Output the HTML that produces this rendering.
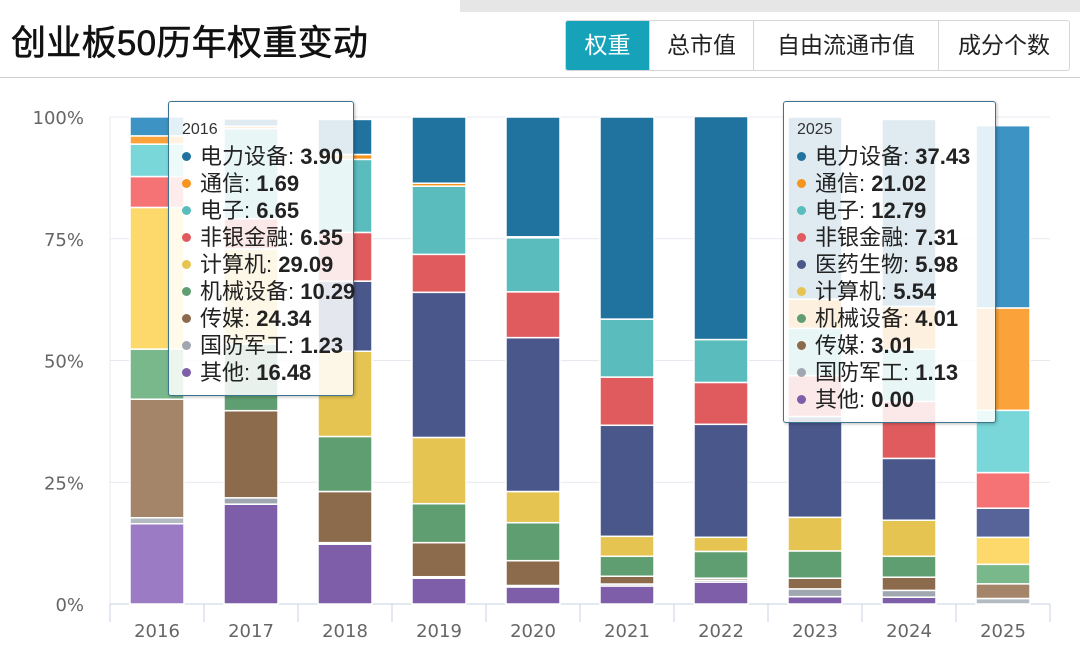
<!DOCTYPE html>
<html><head><meta charset="utf-8">
<style>
body{margin:0;width:1080px;height:663px;background:#fff;overflow:hidden;font-family:"Liberation Sans","Noto Sans CJK SC",sans-serif;position:relative}
.topbar{position:absolute;left:460px;top:0;width:620px;height:12px;background:#e6e6e6}
.title{position:absolute;left:11px;top:15px;font-size:35px;font-weight:normal;-webkit-text-stroke:0.6px #111;color:#111;letter-spacing:0.3px}
.hr{position:absolute;left:0;top:77px;width:1080px;height:1px;background:#cfcfcf}
.tabs{position:absolute;left:565px;top:20px;height:49px;display:flex;border:1px solid #d6d6d6;border-radius:3px;overflow:hidden}
.tab{height:49px;line-height:49px;font-size:23px;color:#222;text-align:center;border-left:1px solid #d6d6d6}
.tab:first-child{border-left:none;background:#16a2b8;color:#fff}
.tip{position:absolute;background:rgba(255,255,255,0.86);border:1.5px solid #3d7590;border-radius:3px;box-shadow:1px 1px 3px rgba(0,0,0,0.25);font-size:22px;color:#222}
.tip .yr{font-size:16px;margin:19px 0 4px 13px;color:#333;line-height:18px}
.tip .row{height:27px;line-height:27px;padding-left:13px;white-space:nowrap}
.tip .dot{display:inline-block;width:9px;height:9px;border-radius:50%;margin-right:9px;vertical-align:middle;position:relative;top:-2px}
.tip b{font-weight:bold}
</style></head><body>
<div class="topbar"></div>
<div class="title">创业板50历年权重变动</div>
<div class="tabs">
<div class="tab" style="width:83px">权重</div>
<div class="tab" style="width:103px">总市值</div>
<div class="tab" style="width:184px">自由流通市值</div>
<div class="tab" style="width:130px">成分个数</div>
</div>
<div class="hr"></div>
<svg id="chart" width="1080" height="663" style="position:absolute;left:0;top:0"></svg>

<div class="tip" style="left:168px;top:101px;width:184px;height:293px">
<div class="yr">2016</div>
<div class="row"><span class="dot" style="background:#21739f"></span>电力设备: <b>3.90</b></div>
<div class="row"><span class="dot" style="background:#f7941d"></span>通信: <b>1.69</b></div>
<div class="row"><span class="dot" style="background:#5bbcbd"></span>电子: <b>6.65</b></div>
<div class="row"><span class="dot" style="background:#e05b5e"></span>非银金融: <b>6.35</b></div>
<div class="row"><span class="dot" style="background:#e5c452"></span>计算机: <b>29.09</b></div>
<div class="row"><span class="dot" style="background:#5f9e70"></span>机械设备: <b>10.29</b></div>
<div class="row"><span class="dot" style="background:#8c6a4c"></span>传媒: <b>24.34</b></div>
<div class="row"><span class="dot" style="background:#a0a7b0"></span>国防军工: <b>1.23</b></div>
<div class="row"><span class="dot" style="background:#7e5ea8"></span>其他: <b>16.48</b></div>
</div>
<div class="tip" style="left:783px;top:101px;width:211px;height:320px">
<div class="yr">2025</div>
<div class="row"><span class="dot" style="background:#21739f"></span>电力设备: <b>37.43</b></div>
<div class="row"><span class="dot" style="background:#f7941d"></span>通信: <b>21.02</b></div>
<div class="row"><span class="dot" style="background:#5bbcbd"></span>电子: <b>12.79</b></div>
<div class="row"><span class="dot" style="background:#e05b5e"></span>非银金融: <b>7.31</b></div>
<div class="row"><span class="dot" style="background:#4a578b"></span>医药生物: <b>5.98</b></div>
<div class="row"><span class="dot" style="background:#e5c452"></span>计算机: <b>5.54</b></div>
<div class="row"><span class="dot" style="background:#5f9e70"></span>机械设备: <b>4.01</b></div>
<div class="row"><span class="dot" style="background:#8c6a4c"></span>传媒: <b>3.01</b></div>
<div class="row"><span class="dot" style="background:#a0a7b0"></span>国防军工: <b>1.13</b></div>
<div class="row"><span class="dot" style="background:#7e5ea8"></span>其他: <b>0.00</b></div>
</div>

<script>
const years = ["2016","2017","2018","2019","2020","2021","2022","2023","2024","2025"];
const seriesNames = ["其他","国防军工","传媒","机械设备","计算机","医药生物","非银金融","电子","通信","电力设备"];
const other   = [16.48,20.5,12.3,5.3,3.5,3.7,4.5,1.5,1.4,0.00];
const defense = [1.23,1.3,0.3,0.3,0.3,0.4,0.4,1.6,1.4,1.13];
const media   = [24.34,17.9,10.5,7.0,5.1,1.6,0.4,2.2,2.7,3.01];
const machine = [10.29,13.7,11.3,8.0,7.8,4.1,5.5,5.6,4.3,4.01];
const computer= [29.09,19.5,17.5,13.6,6.4,4.1,2.9,6.9,7.4,5.54];
const pharma  = [0,0,14.4,29.8,31.6,22.8,23.2,20.7,12.7,5.98];
const finance = [6.35,6.2,10.0,7.8,9.4,9.9,8.6,8.4,11.7,7.31];
const electronics=[6.65,18.5,15.0,14.0,11.1,11.9,8.8,9.7,10.7,12.79];
const telecom = [1.69,0.5,1.0,0.6,0.2,0,0,6.0,8.8,21.02];
const power   = [3.90,1.5,7.2,13.6,24.6,41.5,45.8,37.4,38.4,37.43];
const yTicks = [0,25,50,75,100];
const yTickLabels = ["0%","25%","50%","75%","100%"];

const series=[other,defense,media,machine,computer,pharma,finance,electronics,telecom,power];
const colors=["#7e5ea8","#a0a7b0","#8c6a4c","#5f9e70","#e5c452","#4a578b","#e05b5e","#5bbcbd","#f7941d","#21739f"];
const light=["#9b7cc4","#b4bac2","#a5856a","#79b88a","#fcd96a","#56649a","#f57275","#79d7d9","#fba33a","#3d93c4"];
const svg=document.getElementById('chart');
const NS="http://www.w3.org/2000/svg";
const x0=110,catW=94,y0=604,y1=117;
function yScale(v){return y0-(y0-y1)*v/100;}
function xScale(i){return x0+i*catW;}
function mk(t,a){const e=document.createElementNS(NS,t);for(const k in a)e.setAttribute(k,a[k]);svg.appendChild(e);return e;}
yTicks.forEach((t,i)=>{
  const y=yScale(t);
  const g=mk('line',{x1:x0,x2:x0+catW*10,y1:y,y2:y,stroke:i==0?'#c8d0e0':'#e6e9ef','stroke-width':1});
  
  
  const l=mk('text',{x:84,y:y+7,'text-anchor':'end','font-size':18,fill:'#666','font-family':'DejaVu Sans, sans-serif'});
  l.textContent=yTickLabels[i];
  
  
});
const ax=mk('line',{x1:x0,x2:x0,y1:y1,y2:y0,stroke:'#e6e9ef'});


for(let i=0;i<=10;i++){
  const tk=mk('line',{x1:xScale(i),x2:xScale(i),y1:y0,y2:y0+18,stroke:'#c8d0e0'});
  
  
}
years.forEach((yr,i)=>{
  let cum=0;
  const hl=(i==0||i==9);
  series.forEach((s,k)=>{
    const v=s[i]; if(v<=0) {return;}
    const ya=yScale(cum), yb=yScale(cum+v);
    cum+=v;
    const r=mk('rect',{x:xScale(i)+20,y:yb,width:54,height:Math.max(ya-yb,0),fill:hl?light[k]:colors[k],stroke:'#fff','stroke-width':1.5});
    
    
  });
  const t=mk('text',{x:xScale(i)+catW/2,y:637,'text-anchor':'middle','font-size':18,fill:'#666','font-family':'DejaVu Sans, sans-serif'});
  t.textContent=yr;
  
  
});
</script>
</body></html>
